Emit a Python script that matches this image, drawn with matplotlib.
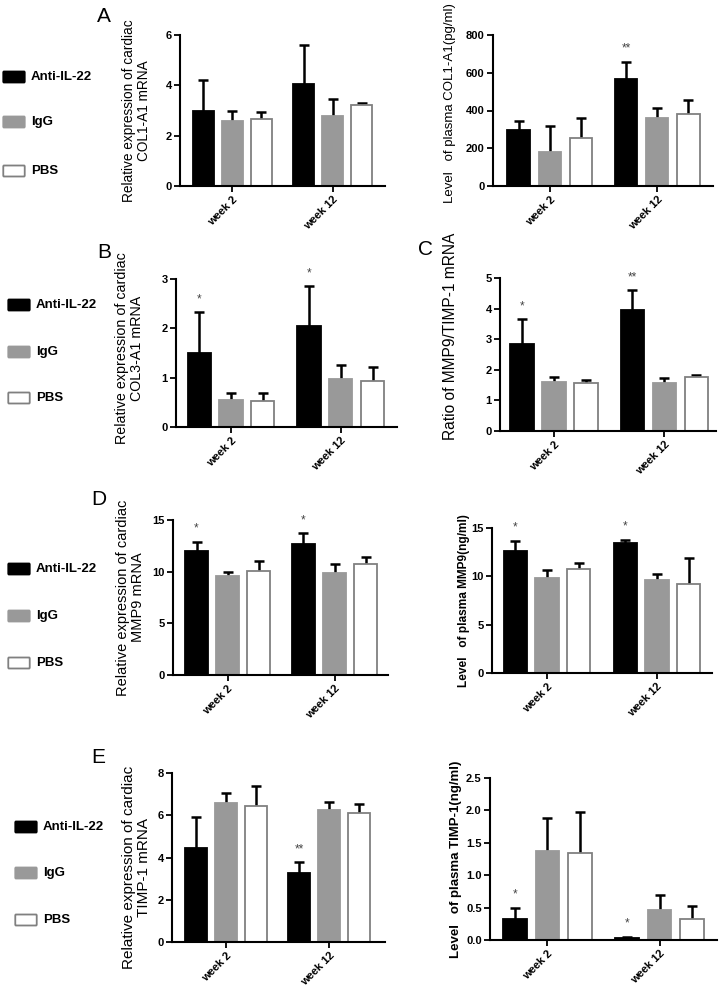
import numpy as np
import matplotlib.pyplot as plt
from matplotlib.patches import FancyBboxPatch
from matplotlib.ticker import FormatStrFormatter

plt.rcParams['font.family'] = ['Liberation Sans', 'DejaVu Sans']

groups = ['Anti-IL-22', 'IgG', 'PBS']
weeks = ['week 2', 'week 12']

# values are [week 2, week 12] x [Anti-IL-22, IgG, PBS]; err = upper error bar
col1_mrna = [[3.0, 2.6, 2.65], [4.05, 2.8, 3.2]]
col1_mrna_err = [[1.2, 0.4, 0.3], [1.55, 0.65, 0.1]]
col1_mrna_stars = [['', '', ''], ['', '', '']]

col1_plasma = [[295, 180, 255], [565, 358, 383]]
col1_plasma_err = [[50, 138, 107], [93, 57, 72]]
col1_plasma_stars = [['', '', ''], ['**', '', '']]

col3_mrna = [[1.5, 0.55, 0.53], [2.05, 0.97, 0.93]]
col3_mrna_err = [[0.83, 0.13, 0.15], [0.8, 0.29, 0.28]]
col3_mrna_stars = [['*', '', ''], ['*', '', '']]

ratio = [[2.85, 1.6, 1.58], [3.97, 1.58, 1.77]]
ratio_err = [[0.8, 0.15, 0.09], [0.63, 0.14, 0.06]]
ratio_stars = [['*', '', ''], ['**', '', '']]

mmp9_mrna = [[12.0, 9.6, 10.05], [12.7, 9.85, 10.75]]
mmp9_mrna_err = [[0.9, 0.4, 0.95], [1.0, 0.9, 0.65]]
mmp9_mrna_stars = [['*', '', ''], ['*', '', '']]

mmp9_plasma = [[12.65, 9.85, 10.75], [13.4, 9.6, 9.2]]
mmp9_plasma_err = [[1.05, 0.85, 0.65], [0.4, 0.6, 2.7]]
mmp9_plasma_stars = [['*', '', ''], ['*', '', '']]

timp1_mrna = [[4.45, 6.58, 6.45], [3.25, 6.25, 6.1]]
timp1_mrna_err = [[1.45, 0.47, 0.95], [0.53, 0.4, 0.45]]
timp1_mrna_stars = [['', '', ''], ['**', '', '']]

timp1_plasma = [[0.32, 1.37, 1.34], [0.03, 0.47, 0.32]]
timp1_plasma_err = [[0.18, 0.51, 0.63], [0.02, 0.23, 0.2]]
timp1_plasma_stars = [['*', '', ''], ['*', '', '']]

face = ['black', '#999999', 'white']
edge = ['black', '#999999', '#808080']

W, H = 723, 992
fig = plt.figure(figsize=(W / 100, H / 100), dpi=100)


def make_ax(x0, x1, ytop, ybot):
    return fig.add_axes([x0 / W, 1 - ybot / H, (x1 - x0) / W, (ybot - ytop) / H])


def panel(box, xlim, mean, err, stars, yticks, ylabel, label_x, label_y=0.5,
          label_size=9.5, bold_label=False, fmt=None):
    ax = make_ax(*box)
    step, w = 0.29, 0.21
    for g in range(3):
        x = np.arange(2) + (g - 1) * step
        m = [mean[k][g] for k in range(2)]
        e = [err[k][g] for k in range(2)]
        ax.errorbar(x, m, yerr=e, fmt='none', ecolor='black', elinewidth=1.8,
                    capsize=3.5, capthick=1.8, zorder=1)
        ax.bar(x, m, w, color=face[g], edgecolor=edge[g], linewidth=1.3, zorder=2)
        for k in range(2):
            if stars[k][g]:
                ax.annotate(stars[k][g], (x[k], m[k] + e[k]), xytext=(0, 5),
                            textcoords='offset points', ha='center', va='bottom',
                            fontsize=8.5, color='#444444')
    ax.set_xlim(*xlim)
    ax.set_ylim(yticks[0], yticks[-1])
    ax.set_yticks(yticks)
    if fmt:
        ax.yaxis.set_major_formatter(FormatStrFormatter(fmt))
    ax.set_xticks([0, 1])
    ax.set_xticklabels(weeks, rotation=45, ha='right', rotation_mode='anchor')
    for s in ['top', 'right']:
        ax.spines[s].set_visible(False)
    for s in ['left', 'bottom']:
        ax.spines[s].set_linewidth(1.5)
    ax.tick_params(length=4, width=1.3, labelsize=8, pad=2)
    for t in ax.get_xticklabels() + ax.get_yticklabels():
        t.set_fontweight('bold')
    ax.set_ylabel(ylabel, fontsize=label_size, fontweight='bold' if bold_label else 'normal',
                  linespacing=1.05)
    ax.yaxis.set_label_coords((label_x - box[0]) / (box[1] - box[0]), label_y)
    return ax


panel((180, 385, 35, 186), (-0.52, 1.52), col1_mrna, col1_mrna_err, col1_mrna_stars,
      [0, 2, 4, 6], 'Relative expression of cardiac\nCOL1-A1 mRNA', 151, label_size=9.8)
panel((493, 713, 35, 186), (-0.53, 1.52), col1_plasma, col1_plasma_err, col1_plasma_stars,
      [0, 200, 400, 600, 800], 'Level   of plasma COL1-A1(pg/ml)', 456, label_y=0.55)
panel((176, 397, 279, 427), (-0.5, 1.51), col3_mrna, col3_mrna_err, col3_mrna_stars,
      [0, 1, 2, 3], 'Relative expression of cardiac\nCOL3-A1 mRNA', 144,
      label_y=0.53, label_size=10.3)
panel((500, 716, 278, 431), (-0.49, 1.47), ratio, ratio_err, ratio_stars,
      [0, 1, 2, 3, 4, 5], 'Ratio of MMP9/TIMP-1 mRNA', 458, label_y=0.62, label_size=11.2)
panel((173, 388, 520, 675), (-0.51, 1.5), mmp9_mrna, mmp9_mrna_err, mmp9_mrna_stars,
      [0, 5, 10, 15], 'Relative expression of cardiac\nMMP9 mRNA', 145, label_size=10.5)
panel((492, 712, 528, 673), (-0.5, 1.5), mmp9_plasma, mmp9_plasma_err, mmp9_plasma_stars,
      [0, 5, 10, 15], 'Level   of plasma MMP9(ng/ml)', 470, label_size=8.6, bold_label=True)
panel((172, 385, 773, 942), (-0.52, 1.54), timp1_mrna, timp1_mrna_err, timp1_mrna_stars,
      [0, 2, 4, 6, 8], 'Relative expression of cardiac\nTIMP-1 mRNA', 151,
      label_y=0.44, label_size=11)
panel((490, 717, 778, 940), (-0.51, 1.51), timp1_plasma, timp1_plasma_err, timp1_plasma_stars,
      [0, 0.5, 1.0, 1.5, 2.0, 2.5], 'Level   of plasma TIMP-1(ng/ml)', 462,
      bold_label=True, fmt='%.1f')

# panel letters
for letter, x, y in [('A', 97, 22), ('B', 97, 258), ('C', 418, 255), ('D', 91, 505), ('E', 91, 763)]:
    fig.text(x / W, 1 - y / H, letter, fontsize=15, va='baseline', ha='left')

# legends
for x, ys in [(3, (77, 122, 171)), (8, (305, 352, 398)), (8, (569, 616, 663)), (15, (827, 873, 920))]:
    for g, y in enumerate(ys):
        rect = FancyBboxPatch(((x + 1) / W, 1 - (y + 4.5) / H), 20 / W, 9 / H,
                              boxstyle='round,pad=0.001', transform=fig.transFigure,
                              facecolor=face[g], edgecolor=edge[g], linewidth=1.3)
        fig.patches.append(rect)
        fig.text((x + 28) / W, 1 - y / H, groups[g], fontsize=9.5, fontweight='bold',
                 va='center', ha='left')

fig.savefig('out.png', dpi=100)
